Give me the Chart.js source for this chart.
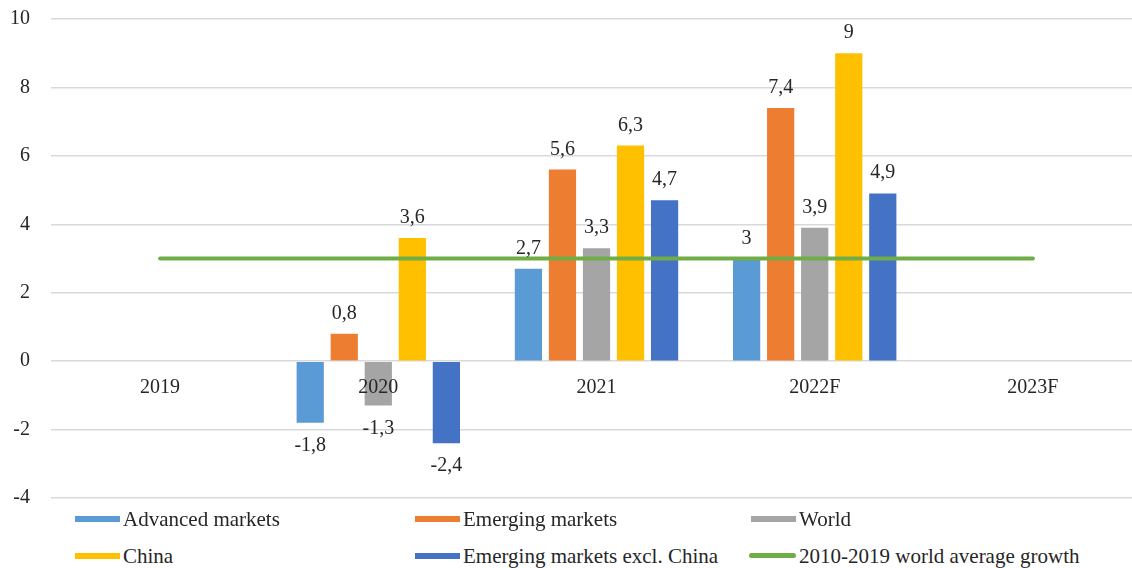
<!DOCTYPE html>
<html>
<head>
<meta charset="utf-8">
<script src="https://cdn.jsdelivr.net/npm/chart.js@4.4.0/dist/chart.umd.min.js"></script>
<style>
  html, body { margin: 0; padding: 0; background: #fff; overflow: hidden; }
  #wrap { position: relative; width: 1132px; height: 568px; overflow: hidden; }
  #box { position: absolute; left: 0; top: -14px; width: 1142px; height: 545px; }
  .leg { position: absolute; font: 21px "Liberation Serif", "Times New Roman", serif; color: #262626; white-space: nowrap; }
  .leg i { position: absolute; left: 0; top: 50%; display: block; height: 6px; margin-top: -3px; }
  .leg span { position: absolute; top: 0; }
</style>
</head>
<body>
<div id="wrap">
  <div id="box"><canvas id="growthChart"></canvas></div>
  <div id="legend"></div>
</div>
<script>
const years = ["2019", "2020", "2021", "2022F", "2023F"];
const advanced = [null, -1.8, 2.7, 3.0, null];
const emerging = [null, 0.8, 5.6, 7.4, null];
const world = [null, -1.3, 3.3, 3.9, null];
const china = [null, 3.6, 6.3, 9.0, null];
const emergingExChina = [null, -2.4, 4.7, 4.9, null];
const avgGrowth = [3, 3, 3, 3, 3];

const serif = '"Liberation Serif", "Times New Roman", serif';

function bar(label, data, color) {
  return {
    type: "bar",
    label: label,
    data: data,
    backgroundColor: color,
    borderWidth: 0,
    barPercentage: 0.8,
    categoryPercentage: 0.78,
    order: 1,
  };
}

// draws the value above / below each bar, with a decimal comma
const valueLabels = {
  id: "valueLabels",
  afterDatasetsDraw(chart) {
    const ctx = chart.ctx;
    ctx.save();
    ctx.font = "20px " + serif;
    ctx.fillStyle = "#262626";
    ctx.textAlign = "center";
    ctx.textBaseline = "alphabetic";
    chart.data.datasets.forEach((ds, i) => {
      if (ds.type !== "bar") return;
      chart.getDatasetMeta(i).data.forEach((el, j) => {
        const v = ds.data[j];
        if (v === null) return;
        const txt = String(v).replace(".", ",");
        if (v >= 0) ctx.fillText(txt, el.x, el.y - 15);
        else ctx.fillText(txt, el.x, el.y + 28);
      });
    });
    ctx.restore();
  },
};

const ctx = document.getElementById("growthChart").getContext("2d");
const chart = new Chart(ctx, {
  data: {
    labels: years,
    datasets: [
      bar("Advanced markets", advanced, "#5B9BD5"),
      bar("Emerging markets", emerging, "#ED7D31"),
      bar("World", world, "#A5A5A5"),
      bar("China", china, "#FFC000"),
      bar("Emerging markets excl. China", emergingExChina, "#4472C4"),
      {
        type: "line",
        label: "2010-2019 world average growth",
        data: avgGrowth,
        borderColor: "#70AD47",
        backgroundColor: "#70AD47",
        borderWidth: 4,
        borderCapStyle: "round",
        pointRadius: 0,
        tension: 0,
        order: 0,
      },
    ],
  },
  options: {
    responsive: true,
    maintainAspectRatio: false,
    animation: false,
    layout: { padding: { top: 9, right: 0, bottom: 8, left: 0 } },
    plugins: {
      legend: { display: false },
      tooltip: { enabled: false },
    },
    scales: {
      x: {
        position: { y: 0 },
        grid: { display: false, drawTicks: false },
        border: { display: false },
        ticks: { z: 1, font: { family: serif, size: 20 }, color: "#262626", padding: 15 },
      },
      y: {
        min: -4,
        max: 10,
        ticks: { stepSize: 2, font: { family: serif, size: 20 }, color: "#262626", padding: 21 },
        grid: { color: "#D9D9D9", lineWidth: 1.5, drawTicks: false },
        border: { display: false },
        afterFit: (s) => { s.width = 51; },
      },
    },
  },
  plugins: [valueLabels],
});

// legend laid out in three columns like the original
const legendItems = [
  ["Advanced markets", "#5B9BD5", 75, 519, false],
  ["Emerging markets", "#ED7D31", 415, 519, false],
  ["World", "#A5A5A5", 751, 519, false],
  ["China", "#FFC000", 75, 556, false],
  ["Emerging markets excl. China", "#4472C4", 415, 556, false],
  ["2010-2019 world average growth", "#70AD47", 749, 556, true],
];
const legend = document.getElementById("legend");
legendItems.forEach(([text, color, x, y, isLine]) => {
  const d = document.createElement("div");
  d.className = "leg";
  d.style.left = x + "px";
  d.style.top = (y - 12) + "px";
  d.style.height = "24px";
  d.style.lineHeight = "24px";
  const w = isLine ? 47 : 45;
  d.innerHTML = '<i style="width:' + w + 'px;background:' + color + ';' +
    (isLine ? 'height:5px;border-radius:3px;' : '') + '"></i><span style="left:' + (w + 3) + 'px">' + text + '</span>';
  legend.appendChild(d);
});
</script>
</body>
</html>
